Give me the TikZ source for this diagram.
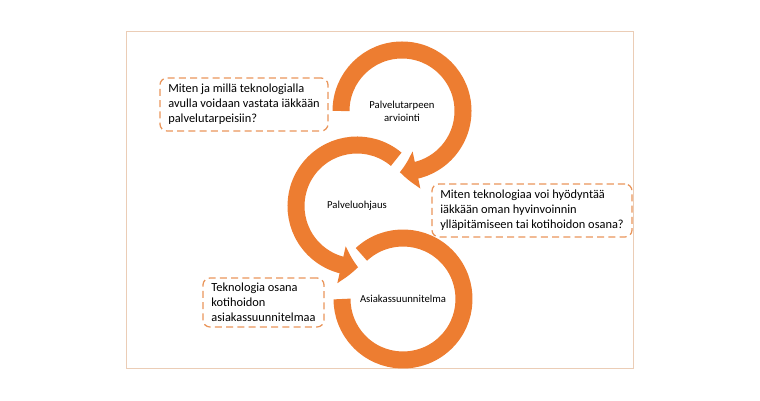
\documentclass[tikz,border=0pt]{standalone}
\usepackage{fontspec}
\setmainfont{Carlito}
\usepackage{xcolor}
\usepackage{tikz}
\usetikzlibrary{arrows.meta, bending}
\definecolor{ringorange}{HTML}{ED7D31}
\definecolor{boxorange}{HTML}{E9955A}
\definecolor{framebeige}{HTML}{EBCDB6}
\begin{document}
\begin{tikzpicture}[x=0.025cm, y=0.025cm,
    ring/.style={ringorange, line width=0.425cm},
    ringtip/.style={-{Triangle[width=0.92cm, length=0.42cm, bend]}},
    stage/.style={font=\fontsize{7.6}{9.3}\selectfont, align=center},
    question/.style={draw=boxorange, line width=0.9pt, dash pattern=on 5pt off 3pt,
        rounded corners=5pt, align=left, inner xsep=0.15cm, anchor=center,
        font=\fontsize{8.8}{10.7}\selectfont}]
    \useasboundingbox (0,0) rectangle (760,400);
    \draw[framebeige, line width=0.6pt] (126,32) rectangle (633,369); % Frame

    % Stages in the circles
    \node[stage] (arvio) at (402,289) {Palvelutarpeen\\arviointi};
    \node[stage] (ohjaus) at (357,194) {Palveluohjaus};
    \node[stage] (suunnitelma) at (403,101) {Asiakassuunnitelma};

    % Circular arrows
    \draw[ring, ringtip] ([shift={(180:61)}]arvio.center) arc[start angle=180, end angle=-92, radius=61];
    \draw[ring, ringtip] ([shift={(50:61)}]ohjaus.center) arc[start angle=50, end angle=271, radius=61];
    \draw[ring] ([shift={(133:61)}]suunnitelma.center) arc[start angle=133, end angle=-180, radius=61];

    % Questions
    \node[question, minimum width=4.2cm, minimum height=1.325cm] (kysymys1) at (244,295.5)
        {Miten ja millä teknologialla\\avulla voidaan vastata iäkkään\\palvelutarpeisiin?};
    \node[question, minimum width=5cm, minimum height=1.325cm] (kysymys2) at (532,189.5)
        {Miten teknologiaa voi hyödyntää\\iäkkään oman hyvinvoinnin\\ylläpitämiseen tai kotihoidon osana?};
    \node[question, minimum width=3.025cm, minimum height=1.225cm] (kysymys3) at (263.5,97.5)
        {Teknologia osana\\kotihoidon\\asiakassuunnitelmaa};
\end{tikzpicture}
\end{document}
